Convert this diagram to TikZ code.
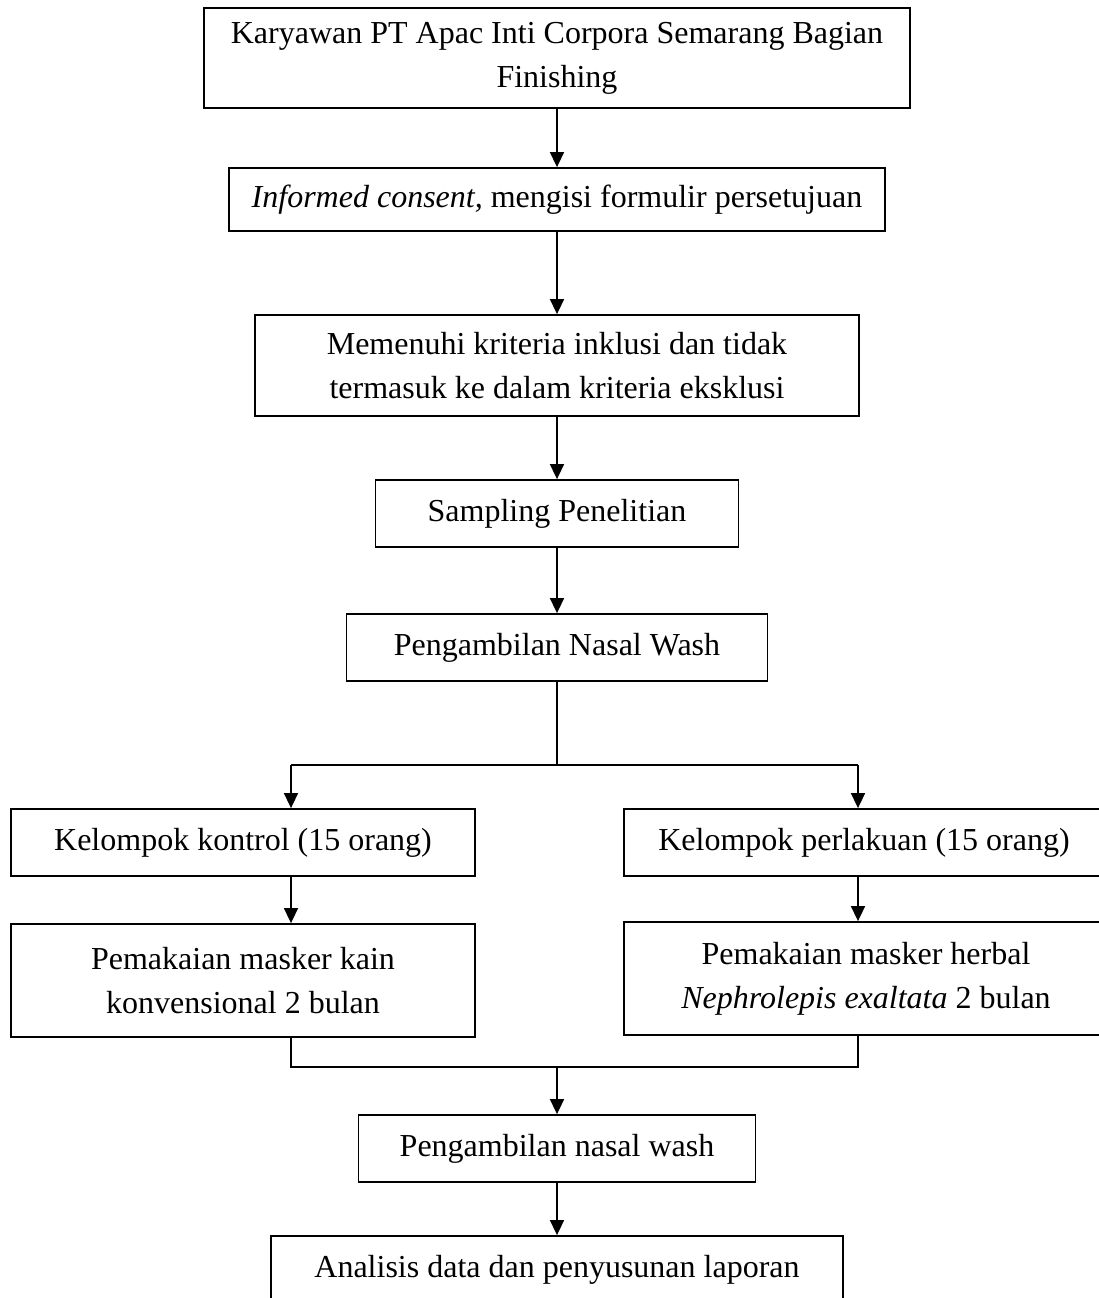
\documentclass[tikz,border=0pt]{standalone}
\usepackage{fontspec}
\setmainfont{Liberation Serif}
\usetikzlibrary{arrows.meta}

\begin{document}
\begin{tikzpicture}[x=1pt, y=1pt,
      box/.style={
        draw, line width=1.8pt, inner sep=0pt, align=center,
        font=\fontsize{32}{44}\selectfont
      },
      link/.style={line width=1.6pt},
      arr/.style={line width=1.6pt, -{Triangle[length=15pt,width=14pt]}}
    ]
    \useasboundingbox (0,0) rectangle (1099,-1298);
    \node [box, minimum width=706, minimum height=100] (karyawan) at (557,-58)
      {Karyawan PT Apac Inti Corpora Semarang Bagian\\Finishing};
    \node [box, minimum width=656, minimum height=63] (consent) at (557,-199.5)
      {\textit{Informed consent,} mengisi formulir persetujuan};
    \node [box, minimum width=604, minimum height=101] (kriteria) at (557,-365.5)
      {Memenuhi kriteria inklusi dan tidak\\termasuk ke dalam kriteria eksklusi};
    \node [box, minimum width=363, minimum height=67] (sampling) at (557,-513.5)
      {Sampling Penelitian};
    \node [box, minimum width=421, minimum height=67] (nasal) at (557,-647.5)
      {Pengambilan Nasal Wash};
    \node [box, minimum width=464, minimum height=67] (kontrol) at (243,-842.5)
      {Kelompok kontrol (15 orang)};
    \node [box, minimum width=480, minimum height=67] (perlakuan) at (864,-842.5)
      {Kelompok perlakuan (15 orang)};
    \node [box, minimum width=464, minimum height=113] (maskerkain) at (243,-980.5)
      {Pemakaian masker kain\\konvensional 2 bulan};
    \node [box, minimum width=484, minimum height=113] (maskerherbal) at (866,-978.5)
      {Pemakaian masker herbal\\\textit{Nephrolepis exaltata} 2 bulan};
    \node [box, minimum width=397, minimum height=67] (nasalwash) at (557,-1148.5)
      {Pengambilan nasal wash};
    \node [box, minimum width=572, minimum height=68] (analisis) at (557,-1270)
      {Analisis data dan penyusunan laporan};
    % branch and merge points
    \coordinate (split) at (557,-765);
    \coordinate (splitl) at (291,-765);
    \coordinate (splitr) at (858,-765);
    \coordinate (merge) at (557,-1067);
    \coordinate (mergel) at (291,-1067);
    \coordinate (merger) at (858,-1067);
    \draw [arr] (karyawan) -- (consent);
    \draw [arr] (consent) -- (kriteria);
    \draw [arr] (kriteria) -- (sampling);
    \draw [arr] (sampling) -- (nasal);
    \draw [link] (nasal) -- (split);
    \draw [link] (splitl) -- (splitr);
    \draw [arr] (splitl) -- (splitl |- kontrol.north);
    \draw [arr] (splitr) -- (splitr |- perlakuan.north);
    \draw [arr] (kontrol.south -| splitl) -- (splitl |- maskerkain.north);
    \draw [arr] (perlakuan.south -| splitr) -- (splitr |- maskerherbal.north);
    \draw [link] (maskerkain.south -| mergel) -- (mergel) -- (merger)
      -- (maskerherbal.south -| merger);
    \draw [arr] (merge) -- (nasalwash);
    \draw [arr] (nasalwash) -- (analisis);
  \end{tikzpicture}
\end{document}
